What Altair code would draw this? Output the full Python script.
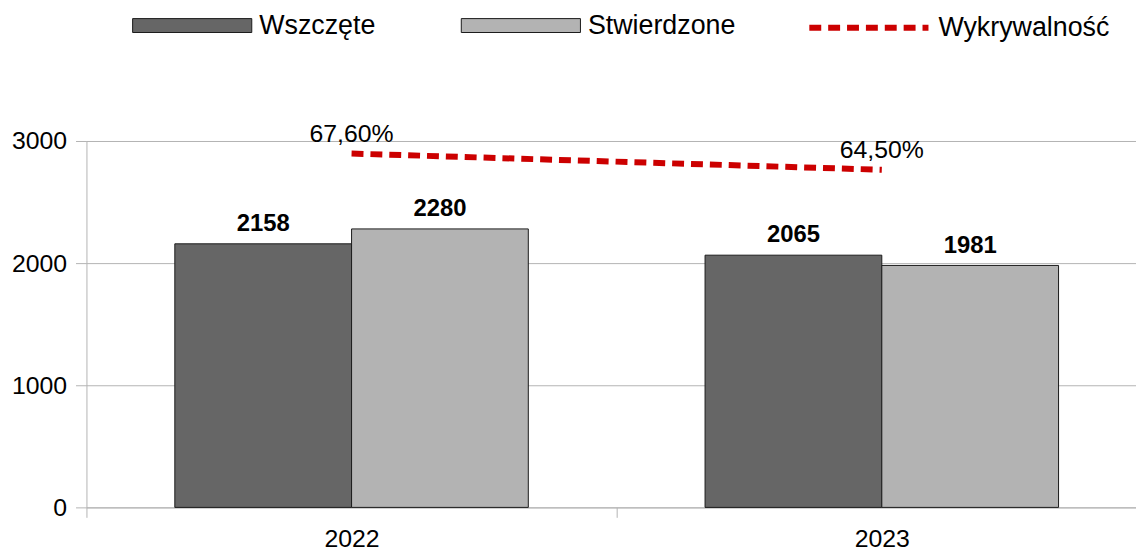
import altair as alt
import pandas as pd

years = ["2022", "2023"]
series_names = ["Wszczęte", "Stwierdzone"]
wszczete = [2158, 2065]
stwierdzone = [2280, 1981]
line_name = "Wykrywalność"
wykrywalnosc = [67.6, 64.5]

bars_df = pd.DataFrame({
    "year": years * 2,
    "series": [series_names[0]] * len(years) + [series_names[1]] * len(years),
    "value": wszczete + stwierdzone,
})
line_df = pd.DataFrame({
    "year": years,
    "pct": wykrywalnosc,
    "name": [line_name] * len(years),
    "label": [f"{v:.2f}%".replace(".", ",") for v in wykrywalnosc],
})

FONT = "Liberation Sans"
GRAY = "#b3b3b3"

x_scale = alt.Scale(domain=years, rangeMin=0, rangeMax=1068, paddingInner=0, paddingOuter=0)
x_axis = alt.Axis(title=None, labelAngle=0, tickBand="extent", ticks=True, tickSize=10,
                  tickColor=GRAY, domainColor=GRAY, labelFontSize=25, labelPadding=9,
                  labelColor="black", grid=False, labelFont=FONT)
x_enc = alt.X("year:N", scale=x_scale, axis=x_axis)
xoff = alt.XOffset("series:N", scale=alt.Scale(domain=series_names, paddingOuter=0.5, paddingInner=0))

y_scale = alt.Scale(domain=[0, 3000], nice=False)
y_axis = alt.Axis(values=[0, 1000, 2000, 3000], format="d", title=None, grid=True, gridColor=GRAY,
                  tickSize=11, tickColor=GRAY, domainColor=GRAY, labelFontSize=25,
                  labelPadding=9, labelColor="black", labelFont=FONT)

bars = alt.Chart(bars_df).mark_bar(stroke="#1a1a1a", strokeWidth=1).encode(
    x=x_enc,
    xOffset=xoff,
    y=alt.Y("value:Q", scale=y_scale, axis=y_axis),
    fill=alt.Fill("series:N", scale=alt.Scale(domain=series_names, range=["#666666", "#b3b3b3"]),
                  legend=alt.Legend(orient="none", legendX=46, legendY=-177, direction="horizontal",
                                    title=None, symbolType="M-1,-0.1167H1V0.1167H-1Z", symbolSize=14400,
                                    symbolStrokeColor="#1a1a1a", symbolStrokeWidth=1,
                                    labelFontSize=27, labelFont=FONT, labelColor="black",
                                    columnPadding=83, labelOffset=7, labelLimit=400)),
)

bar_text = alt.Chart(bars_df).mark_text(fontSize=24, fontWeight="bold", font=FONT, dy=-13,
                                        baseline="alphabetic", color="black").encode(
    x=x_enc,
    xOffset=xoff,
    y=alt.Y("value:Q", scale=y_scale, axis=None),
    text="value:Q",
)

p_scale = alt.Scale(domain=[0, 70], nice=False)
line = alt.Chart(line_df).mark_line(strokeWidth=6, strokeDash=[12, 7]).encode(
    x=x_enc,
    y=alt.Y("pct:Q", scale=p_scale, axis=None),
    stroke=alt.Stroke("name:N", scale=alt.Scale(domain=[line_name], range=["#cc0000"]),
                      legend=alt.Legend(orient="none", legendX=725, legendY=-177, title=None,
                                        symbolType="stroke", symbolSize=14400, symbolStrokeWidth=6,
                                        symbolDash=[12, 7], labelFontSize=27, labelFont=FONT,
                                        labelColor="black", labelOffset=7, labelLimit=400)),
)
line_text = alt.Chart(line_df).mark_text(fontSize=25, font=FONT, dy=-12, baseline="alphabetic",
                                         color="black").encode(
    x=x_enc,
    y=alt.Y("pct:Q", scale=p_scale, axis=None),
    text="label:N",
)

chart = alt.layer(bars, bar_text, line, line_text).resolve_scale(y="independent").properties(
    width=1057, height=369,
    padding={"left": 79, "top": 132, "right": 0, "bottom": 44},
    autosize=alt.AutoSizeParams(type="none"),
).configure(font=FONT, view=alt.ViewConfig(stroke=None))

chart.save("out.html", embed_options={"renderer": "svg", "actions": False})
